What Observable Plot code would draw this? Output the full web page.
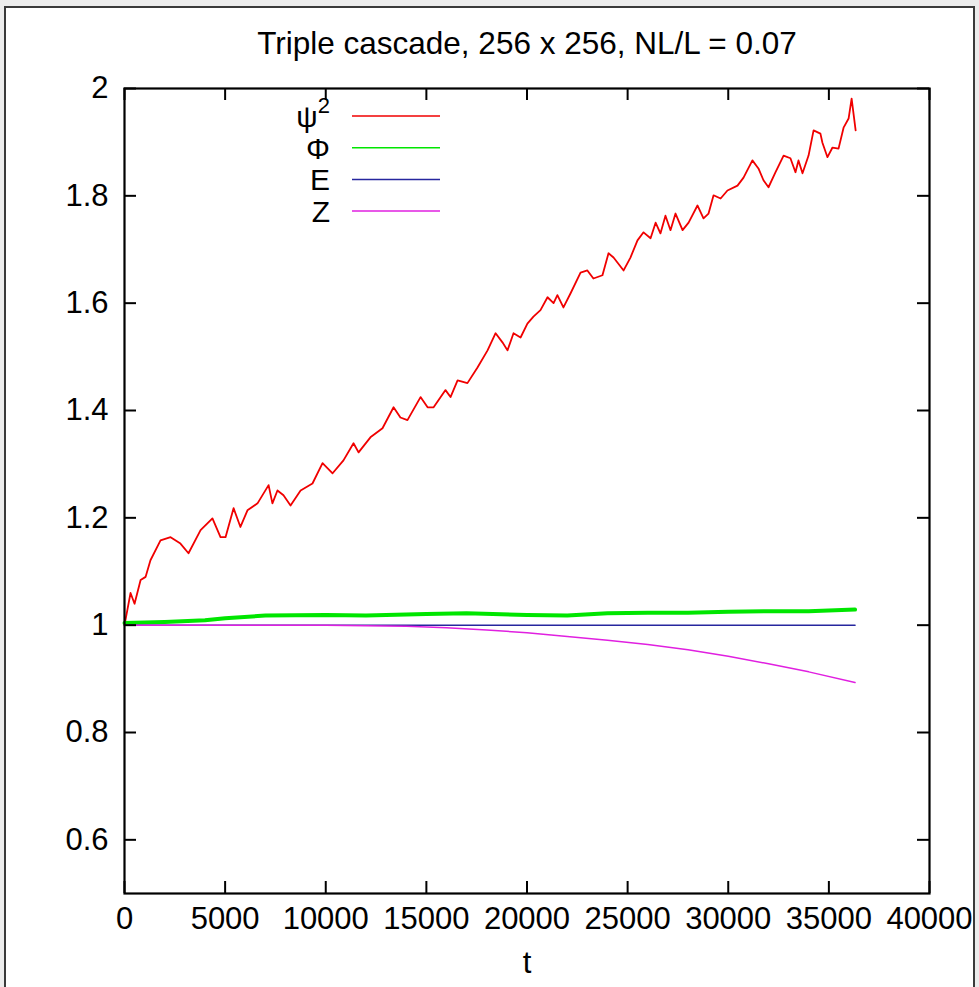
<!DOCTYPE html>
<html>
<head>
<meta charset="utf-8">
<script src="https://cdn.jsdelivr.net/npm/d3@7"></script>
<script src="https://cdn.jsdelivr.net/npm/@observablehq/plot@0.6"></script>
<style>
  html, body { margin: 0; padding: 0; background: #ececec; }
  #wrap { position: relative; width: 979px; height: 987px; overflow: hidden; background: #ececec; }
  #sheet { position: absolute; left: 4px; top: 6px; width: 971px; height: 1000px; background: #fff; border: 2px solid #3a3a3a; box-sizing: border-box; }
  #chart { position: absolute; left: 0; top: 0; }
  #legend { position: absolute; left: 0; top: 0; pointer-events: none; }
  text { font-family: "Liberation Sans", Arial, Helvetica, sans-serif; }
</style>
</head>
<body>
<div id="wrap">
  <div id="sheet"></div>
  <div id="chart"></div>
  <svg id="legend" width="979" height="987"></svg>
</div>
<script>
// ---------- data ----------
const title = "Triple cascade, 256 x 256, NL/L = 0.07";
const xLabel = "t";
const seriesNames = ["ψ", "Φ", "E", "Z"];
const seriesColors = ["#f00000", "#00e600", "#26269e", "#e020e0"];

const psiT = [0,150,300,500,800,1050,1290,1790,2290,2780,3180,3780,4370,4770,5020,5420,5760,6110,6610,7160,7350,7600,7900,8250,8750,9340,9840,10340,10880,11380,11630,12220,12820,13370,13710,14060,14710,15060,15360,15950,16200,16550,17040,17540,18040,18440,18780,19030,19330,19680,20020,20320,20670,21020,21320,21510,21810,22160,22660,23000,23300,23750,24050,24300,24800,25140,25490,25790,26140,26390,26630,26880,27130,27380,27730,28030,28470,28770,29020,29270,29620,29960,30460,30760,31200,31500,31750,32000,32350,32750,33090,33340,33490,33690,33990,34240,34580,34680,34930,35180,35480,35730,35980,36130,36330];
const psiV = [1.00,1.03,1.06,1.04,1.084,1.09,1.121,1.158,1.164,1.152,1.134,1.177,1.199,1.164,1.164,1.218,1.183,1.214,1.227,1.261,1.227,1.251,1.242,1.223,1.251,1.264,1.302,1.283,1.307,1.339,1.322,1.350,1.367,1.406,1.387,1.382,1.425,1.406,1.406,1.438,1.425,1.456,1.451,1.480,1.512,1.544,1.527,1.512,1.544,1.536,1.562,1.575,1.587,1.611,1.600,1.615,1.592,1.618,1.657,1.661,1.646,1.652,1.693,1.685,1.661,1.685,1.717,1.732,1.721,1.750,1.730,1.763,1.736,1.767,1.736,1.750,1.782,1.758,1.767,1.801,1.795,1.810,1.819,1.834,1.866,1.851,1.829,1.816,1.844,1.875,1.870,1.844,1.866,1.842,1.875,1.922,1.916,1.899,1.872,1.890,1.888,1.927,1.944,1.981,1.922];

const phiT = [0,2000,4000,5000,7000,10000,12000,15000,17000,20000,22000,24000,26000,28000,30000,32000,34000,36300];
const phiV = [1.004,1.006,1.009,1.013,1.018,1.019,1.018,1.021,1.022,1.019,1.018,1.022,1.023,1.023,1.025,1.026,1.026,1.029];

const eT = [0,10000,20000,30000,36300];
const eV = [1.0,1.0,1.0,1.0,1.0];

const zT = [0,5000,10000,12000,14000,16000,18000,20000,22000,24000,26000,28000,30000,32000,34000,36300];
const zV = [1.0,1.0,1.0,0.999,0.998,0.995,0.991,0.986,0.979,0.972,0.964,0.954,0.942,0.928,0.913,0.893];

const xTicks = [0,5000,10000,15000,20000,25000,30000,35000,40000];
const yTicks = [0.6,0.8,1.0,1.2,1.4,1.6,1.8,2.0];
const xDomain = [0, 40000];
const yDomain = [0.5, 2];

// ---------- layout ----------
const W = 979, H = 987, ML = 124, MR = 50, MT = 88, MB = 94;
const PW = W - ML - MR, PH = H - MT - MB;
const TICK = 12;

const toRows = (ts, vs, s) => ts.map((t, i) => ({t, v: vs[i], s}));
const series = [
  {rows: toRows(psiT, psiV, 0), w: 1.8},
  {rows: toRows(phiT, phiV, 1), w: 4},
  {rows: toRows(eT, eV, 2), w: 1.5},
  {rows: toRows(zT, zV, 3), w: 1.5}
];

const fmtY = d => String(+d.toFixed(1));

const chart = Plot.plot({
  width: W, height: H,
  marginLeft: ML, marginRight: MR, marginTop: MT, marginBottom: MB,
  style: {background: "transparent", fontFamily: "Liberation Sans, Arial, sans-serif", fontSize: "30px", color: "#000"},
  x: {domain: xDomain},
  y: {domain: yDomain},
  marks: [
    ...series.map(({rows, w}, k) => Plot.line(rows, {x: "t", y: "v", stroke: seriesColors[k], strokeWidth: w})),
    Plot.frame({stroke: "#000", strokeWidth: 2.2}),
    Plot.tickX(xTicks, {x: d => d, insetTop: PH - TICK, stroke: "#000", strokeWidth: 2}),
    Plot.tickX(xTicks, {x: d => d, insetBottom: PH - TICK, stroke: "#000", strokeWidth: 2}),
    Plot.tickY(yTicks, {y: d => d, insetRight: PW - TICK, stroke: "#000", strokeWidth: 2}),
    Plot.tickY(yTicks, {y: d => d, insetLeft: PW - TICK, stroke: "#000", strokeWidth: 2}),
    Plot.axisX(xTicks, {tickSize: 0, tickPadding: 13, tickFormat: d3.format("d"), label: null, fontSize: 31}),
    Plot.axisY(yTicks, {tickSize: 0, tickPadding: 16, tickFormat: fmtY, label: null, fontSize: 31}),
    Plot.text([title], {text: d => d, frameAnchor: "top", lineAnchor: "middle", dy: -45, fontSize: 31.5}),
    Plot.text([xLabel], {text: d => d, frameAnchor: "bottom", lineAnchor: "middle", dy: 70, fontSize: 31})
  ]
});
document.getElementById("chart").appendChild(chart);

// ---------- legend (key inside the plot, top) ----------
const legend = d3.select("#legend");
const lgX = 330, lgLine0 = 352, lgLine1 = 440, lgY0 = 116, lgDY = 31.7;
seriesNames.forEach((name, i) => {
  const y = lgY0 + i * lgDY;
  const t = legend.append("text")
    .attr("x", lgX).attr("y", y + 11)
    .attr("text-anchor", "end")
    .attr("font-size", 30)
    .attr("fill", "#000");
  if (i === 0) {
    t.append("tspan").text(name);
    t.append("tspan").attr("dy", -14).attr("font-size", 22).text("2");
  } else {
    t.text(name);
  }
  legend.append("line")
    .attr("x1", lgLine0).attr("x2", lgLine1)
    .attr("y1", y).attr("y2", y)
    .attr("stroke", seriesColors[i]).attr("stroke-width", 1.5);
});
</script>
</body>
</html>
